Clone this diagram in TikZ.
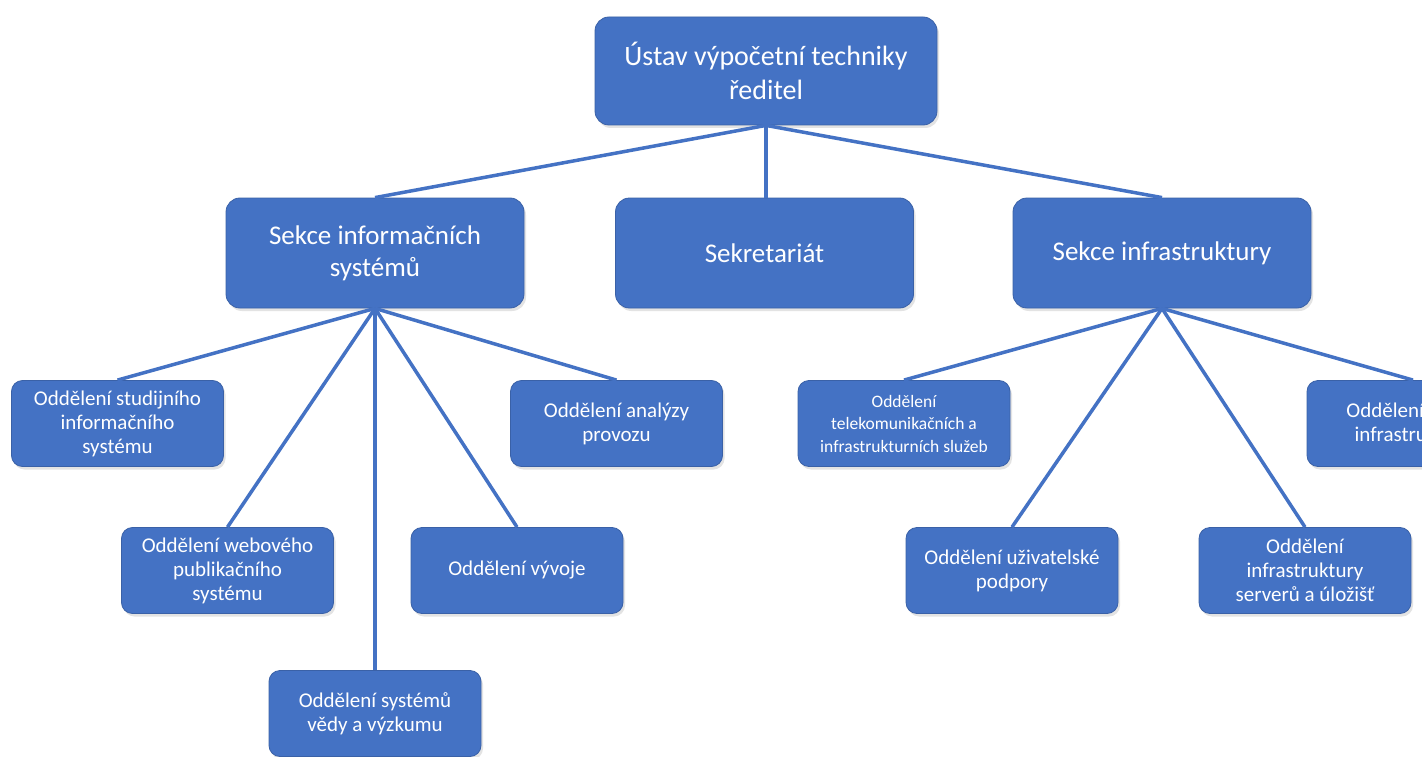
\documentclass[tikz,border=0pt]{standalone}
\usepackage{fontspec}
\setmainfont{Carlito}
\usetikzlibrary{shadows}
\definecolor{boxblue}{RGB}{68,114,196}
\tikzset{
  box/.style={draw=boxblue!85!black, line width=0.8pt, fill=boxblue, text=white, rounded corners=14pt, align=center, inner sep=2pt,
    drop shadow={opacity=0.22, shadow xshift=2pt, shadow yshift=-3pt}},
  bigbox/.style={box, minimum width=342pt, minimum height=108pt, font=\fontsize{28}{34}\selectfont},
  midbox/.style={box, minimum width=298pt, minimum height=110pt, font=\fontsize{27}{32}\selectfont},
  smallbox/.style={box, rounded corners=11pt, minimum width=212pt, minimum height=86pt, font=\fontsize{21}{24}\selectfont},
  tinybox/.style={smallbox, font=\fontsize{17.5}{22.5}\selectfont},
  link/.style={draw=boxblue, line width=3.5pt}
}
\begin{document}
\begin{tikzpicture}[x=1pt,y=-1pt]
\useasboundingbox (0,0) rectangle (1422,757);
\fill[white] (0,0) rectangle (1422,757);
\clip (0,0) rectangle (1422,757);
% top
\node[bigbox] (uvt) at (766,71) {Ústav výpočetní techniky\\ředitel};
% second level
\node[midbox] (sis) at (375,253) {Sekce informačních\\systémů};
\node[midbox] (sek) at (764.5,253) {Sekretariát};
\node[midbox] (sinf) at (1162,253) {Sekce infrastruktury};
% children of sis
\node[smallbox] (stud) at (117.5,423.5) {Oddělení studijního\\informačního\\systému};
\node[smallbox] (anal) at (616.5,423.5) {Oddělení analýzy\\provozu};
\node[smallbox] (web) at (227.5,570.5) {Oddělení webového\\publikačního\\systému};
\node[smallbox] (vyv) at (517,570.5) {Oddělení vývoje};
\node[smallbox] (veda) at (375,713.5) {Oddělení systémů\\vědy a výzkumu};
% children of sinf
\node[tinybox] (tele) at (904,423.5) {Oddělení\\telekomunikačních a\\infrastrukturních služeb};
\node[smallbox] (sit) at (1413,423.5) {Oddělení síťové\\infrastruktury};
\node[smallbox] (uziv) at (1012,570.5) {Oddělení uživatelské\\podpory};
\node[smallbox] (serv) at (1305,570.5) {Oddělení\\infrastruktury\\serverů a úložišť};
% connectors
\draw[link] (uvt.south) -- (sis.north);
\draw[link] (uvt.south) -- (sek.north -| uvt.south);
\draw[link] (uvt.south) -- (sinf.north);
\draw[link] (sis.south) -- (stud.north);
\draw[link] (sis.south) -- (web.north);
\draw[link] (sis.south) -- (veda.north);
\draw[link] (sis.south) -- (vyv.north);
\draw[link] (sis.south) -- (anal.north);
\draw[link] (sinf.south) -- (tele.north);
\draw[link] (sinf.south) -- (uziv.north);
\draw[link] (sinf.south) -- (serv.north);
\draw[link] (sinf.south) -- (sit.north);
\end{tikzpicture}
\end{document}
